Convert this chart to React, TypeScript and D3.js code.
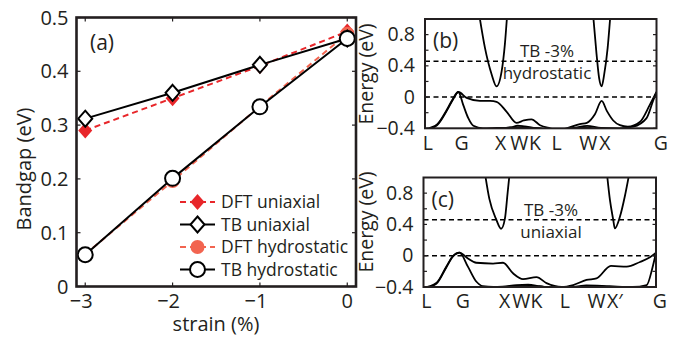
import React from 'react';
import * as d3 from 'd3';

// ---- panel (a): band gap vs strain ----
const strain = [-3, -2, -1, 0];
const dftUniaxial = [0.29, 0.35, 0.41, 0.474];
const tbUniaxial = [0.312, 0.36, 0.412, 0.461];
const dftHydro = [0.06, 0.196, 0.335, 0.47];
const tbHydro = [0.059, 0.201, 0.334, 0.461];

const gapTicks = [0, 0.1, 0.2, 0.3, 0.4, 0.5];
const strainTicks = [-3, -2, -1, 0];
const legendLabels = ['DFT uniaxial', 'TB uniaxial', 'DFT hydrostatic', 'TB hydrostatic'];

// ---- panels (b), (c): TB band structures at -3% strain ----
// k = fractional distance along the L-G-X-W-K-L-W-X-G path, E in eV
const energyTicks = [-0.4, -0.2, 0, 0.2, 0.4, 0.6, 0.8];
const energyTickLabels = [0.8, 0.4, 0, -0.4];
const refLevels = [0, 0.46];

const kLabelsB = ['L', 'G', 'X', 'W', 'K', 'L', 'W', 'X', 'G'];
const kLabelPosB = [0.012, 0.158, 0.327, 0.407, 0.475, 0.568, 0.705, 0.777, 1.019];
const kLabelsC = ['L', 'G', 'X', 'W', 'K', 'L', 'W', 'X\u2032', 'G'];
const kLabelPosC = [0.012, 0.169, 0.349, 0.421, 0.486, 0.608, 0.744, 0.823, 1.017];

const hydroVb1: [number, number][] = [
  [0, -0.41], [0.052, -0.35], [0.095, -0.16], [0.121, -0.02], [0.144, 0.065], [0.18, -0.01],
  [0.237, -0.048], [0.281, -0.05], [0.309, -0.06], [0.352, -0.185], [0.395, -0.33], [0.427, -0.30],
  [0.46, -0.285], [0.497, -0.36], [0.54, -0.40], [0.568, -0.42], [0.612, -0.40], [0.669, -0.345],
  [0.699, -0.33], [0.734, -0.22], [0.763, -0.05], [0.786, -0.18], [0.813, -0.30], [0.842, -0.36],
  [0.876, -0.38], [0.928, -0.32], [0.971, -0.10], [1.0, 0.065],
];
const hydroVb2: [number, number][] = [
  [0, -0.42], [0.052, -0.36], [0.095, -0.17], [0.121, -0.03], [0.144, 0.065], [0.165, -0.10],
  [0.187, -0.27], [0.209, -0.367], [0.25, -0.40], [0.31, -0.395], [0.37, -0.39], [0.40, -0.365],
  [0.43, -0.375], [0.47, -0.395], [0.568, -0.42], [0.65, -0.39], [0.70, -0.37], [0.76, -0.395],
  [0.84, -0.40], [0.899, -0.38], [0.957, -0.27], [0.985, -0.05], [1.0, 0.065],
];
const hydroVb3: [number, number][] = [
  [0, -0.43], [0.144, -0.55], [0.30, -0.42], [0.39, -0.385], [0.43, -0.39], [0.50, -0.40],
  [0.568, -0.43], [0.69, -0.39], [0.76, -0.41], [0.88, -0.42], [1.0, -0.55],
];
const hydroCb1: [number, number][] = [
  [0.234, 1.06], [0.259, 0.63], [0.288, 0.29], [0.309, 0.137], [0.331, 0.33], [0.345, 0.675], [0.355, 1.06],
];
const hydroCb2: [number, number][] = [
  [0.726, 1.06], [0.741, 0.55], [0.752, 0.245], [0.763, 0.137], [0.774, 0.29], [0.789, 0.63], [0.801, 1.06],
];

const uniVb1: [number, number][] = [
  [0, -0.41], [0.055, -0.35], [0.098, -0.14], [0.125, -0.01], [0.155, 0.04], [0.191, -0.035],
  [0.227, -0.09], [0.299, -0.10], [0.342, -0.09], [0.385, -0.225], [0.428, -0.30], [0.486, -0.275],
  [0.529, -0.35], [0.594, -0.40], [0.644, -0.375], [0.701, -0.31], [0.744, -0.29], [0.806, -0.13],
  [0.874, -0.14], [0.931, -0.08], [0.974, -0.02], [1.0, 0.04],
];
const uniVb2: [number, number][] = [
  [0, -0.42], [0.055, -0.36], [0.098, -0.15], [0.125, -0.015], [0.155, 0.04], [0.191, -0.14],
  [0.227, -0.33], [0.255, -0.39], [0.30, -0.40], [0.34, -0.395], [0.40, -0.375], [0.45, -0.37],
  [0.50, -0.39], [0.594, -0.42], [0.70, -0.38], [0.80, -0.39], [0.90, -0.40], [0.96, -0.375],
  [0.985, -0.15], [1.0, 0.04],
];
const uniVb3: [number, number][] = [
  [0, -0.43], [0.155, -0.55], [0.30, -0.42], [0.40, -0.39], [0.46, -0.385], [0.52, -0.40],
  [0.594, -0.43], [0.75, -0.39], [0.82, -0.405], [0.9, -0.42], [1.0, -0.55],
];
const uniCb1: [number, number][] = [
  [0.262, 1.10], [0.283, 0.73], [0.312, 0.47], [0.334, 0.345], [0.35, 0.47], [0.362, 0.81], [0.372, 1.10],
];
const uniCb2: [number, number][] = [
  [0.788, 1.08], [0.802, 0.71], [0.816, 0.46], [0.823, 0.35], [0.845, 0.50], [0.866, 0.76], [0.885, 1.05],
];

const FONT = "'Open Sans', 'Liberation Sans', sans-serif";
const RED = '#e8262a';
const SALMON = '#f26450';

function diamondPath(cx: number, cy: number, w = 7, h = 8) {
  return `M${cx},${cy - h}L${cx + w},${cy}L${cx},${cy + h}L${cx - w},${cy}Z`;
}

function GapPanel() {
  const left = 76.5, right = 356, top = 17.5, bottom = 286.5;
  const x = d3.scaleLinear().domain([-3.1, 0.1]).range([left, right]);
  const y = d3.scaleLinear().domain([0, 0.5]).range([bottom, top]);
  const line = (vals: number[]) =>
    d3.line<number>().x((_, i) => x(strain[i])).y((d) => y(d))(vals) ?? '';

  const legendX0 = 180, legendX1 = 215, legendY0 = 202, legendStep = 22.5;

  return (
    <g fontFamily={FONT}>
      {/* series: DFT under TB */}
      <path d={line(dftUniaxial)} fill="none" stroke={RED} strokeWidth={2} strokeDasharray="6,4" />
      <path d={line(dftHydro)} fill="none" stroke={SALMON} strokeWidth={2} strokeDasharray="6,4" />
      {dftUniaxial.map((v, i) => (
        <path key={'du' + i} d={diamondPath(x(strain[i]), y(v))} fill={RED} />
      ))}
      {dftHydro.map((v, i) => (
        <circle key={'dh' + i} cx={x(strain[i])} cy={y(v)} r={7} fill={SALMON} />
      ))}
      <path d={line(tbUniaxial)} fill="none" stroke="#000" strokeWidth={2} />
      <path d={line(tbHydro)} fill="none" stroke="#000" strokeWidth={2} />
      {tbUniaxial.map((v, i) => (
        <path key={'tu' + i} d={diamondPath(x(strain[i]), y(v))} fill="#fff" stroke="#000" strokeWidth={2} />
      ))}
      {tbHydro.map((v, i) => (
        <circle key={'th' + i} cx={x(strain[i])} cy={y(v)} r={7.5} fill="#fff" stroke="#000" strokeWidth={2} />
      ))}

      {/* box + ticks */}
      <rect x={left} y={top} width={right - left} height={bottom - top} fill="none" stroke="#231f20" strokeWidth={2.6} />
      {gapTicks.map((t) => (
        <g key={'gy' + t}>
          <line x1={left} x2={left + 4} y1={y(t)} y2={y(t)} stroke="#231f20" strokeWidth={1.2} />
          <line x1={right} x2={right - 4} y1={y(t)} y2={y(t)} stroke="#231f20" strokeWidth={1.2} />
          <text x={left - 8} y={y(t) + 7} textAnchor="end" fontSize={20} fill="#231f20">{t}</text>
        </g>
      ))}
      {strainTicks.map((t) => (
        <g key={'gx' + t}>
          <line x1={x(t)} x2={x(t)} y1={bottom} y2={bottom - 4} stroke="#231f20" strokeWidth={1.2} />
          <line x1={x(t)} x2={x(t)} y1={top} y2={top + 4} stroke="#231f20" strokeWidth={1.2} />
          <text x={x(t) - (t < 0 ? 4 : 0)} y={308} textAnchor="middle" fontSize={20} fill="#231f20">
            {t < 0 ? '\u2212' + Math.abs(t) : t}
          </text>
        </g>
      ))}
      <text x={90} y={50} fontSize={21} fill="#231f20">(a)</text>
      <text x={216} y={331} textAnchor="middle" fontSize={20} fill="#231f20">strain (%)</text>
      <text transform="translate(31,169) rotate(-90)" textAnchor="middle" fontSize={20} fill="#231f20">Bandgap (eV)</text>

      {/* legend */}
      {legendLabels.map((lab, i) => {
        const ly = legendY0 + i * legendStep;
        const mx = (legendX0 + legendX1) / 2;
        const dft = i % 2 === 0;
        const col = i === 0 ? RED : SALMON;
        return (
          <g key={lab}>
            <line x1={legendX0} x2={legendX1} y1={ly} y2={ly}
              stroke={dft ? col : '#000'} strokeWidth={2} strokeDasharray={dft ? '6,4' : undefined} />
            {i === 0 && <path d={diamondPath(mx, ly)} fill={RED} />}
            {i === 1 && <path d={diamondPath(mx, ly)} fill="#fff" stroke="#000" strokeWidth={2} />}
            {i === 2 && <circle cx={mx} cy={ly} r={7} fill={SALMON} />}
            {i === 3 && <circle cx={mx} cy={ly} r={7.5} fill="#fff" stroke="#000" strokeWidth={2} />}
            <text x={221} y={ly + 6} fontSize={17.5} fill="#231f20">{lab}</text>
          </g>
        );
      })}
    </g>
  );
}

type BandProps = {
  id: string;
  left: number; right: number; top: number; bottom: number;
  label: string; note: string; noteX: number; noteY: number;
  kLabels: string[]; kLabelPos: number[]; kLabelY: number;
  bands: [number, number][][];
  axisLabelY: number;
};

function BandPanel(p: BandProps) {
  const x = d3.scaleLinear().domain([0, 1]).range([p.left, p.right]);
  const y = d3.scaleLinear().domain([-0.4, 1.0]).range([p.bottom, p.top]);
  const line = d3.line<[number, number]>().x((d) => x(d[0])).y((d) => y(d[1])).curve(d3.curveMonotoneX);
  return (
    <g fontFamily={FONT}>
      <defs>
        <clipPath id={p.id}>
          <rect x={p.left} y={p.top} width={p.right - p.left} height={p.bottom - p.top} />
        </clipPath>
      </defs>
      {refLevels.map((e) => (
        <line key={e} x1={p.left} x2={p.right} y1={y(e)} y2={y(e)} stroke="#000" strokeWidth={1.5} strokeDasharray="5,3.5" />
      ))}
      <g clipPath={`url(#${p.id})`}>
        {p.bands.map((b, i) => (
          <path key={i} d={line(b) ?? ''} fill="none" stroke="#000" strokeWidth={1.8} />
        ))}
      </g>
      <rect x={p.left} y={p.top} width={p.right - p.left} height={p.bottom - p.top} fill="none" stroke="#231f20" strokeWidth={2} />
      {energyTicks.map((t) => (
        <g key={t}>
          <line x1={p.left} x2={p.left + 3.5} y1={y(t)} y2={y(t)} stroke="#231f20" strokeWidth={1.2} />
          <line x1={p.right} x2={p.right - 3.5} y1={y(t)} y2={y(t)} stroke="#231f20" strokeWidth={1.2} />
        </g>
      ))}
      {energyTickLabels.map((t) => (
        <text key={t} x={p.left - 10} y={y(t) + 6.5} textAnchor="end" fontSize={19.5} fill="#231f20">
          {t < 0 ? '\u2212' + Math.abs(t) : t}
        </text>
      ))}
      {p.kLabels.map((lab, i) => (
        <text key={i} x={x(p.kLabelPos[i])} y={p.kLabelY} textAnchor="middle" fontSize={19.5} fill="#231f20">{lab}</text>
      ))}
      <text x={p.left + 8} y={p.top + 29} fontSize={21} fill="#231f20">{p.label}</text>
      <text x={p.noteX} y={p.noteY} textAnchor="middle" fontSize={17} fill="#231f20">TB -3%</text>
      <text x={p.noteX} y={p.noteY + 22} textAnchor="middle" fontSize={17} fill="#231f20">{p.note}</text>
      <text transform={`translate(372.5,${p.axisLabelY}) rotate(-90)`} textAnchor="middle" fontSize={19.5} fill="#231f20">Energy (eV)</text>
    </g>
  );
}

export default function App() {
  return (
    <svg width={683} height={340} style={{ position: 'absolute', left: 0, top: 0, background: '#fff' }}>
      <GapPanel />
      <BandPanel id="clipB" left={425} right={656.5} top={19} bottom={128.3}
        label="(b)" note="hydrostatic" noteX={547} noteY={57}
        kLabels={kLabelsB} kLabelPos={kLabelPosB} kLabelY={150}
        bands={[hydroVb3, hydroVb2, hydroVb1, hydroCb1, hydroCb2]} axisLabelY={74} />
      <BandPanel id="clipC" left={423.5} right={656} top={177.5} bottom={287}
        label="(c)" note="uniaxial" noteX={551} noteY={216}
        kLabels={kLabelsC} kLabelPos={kLabelPosC} kLabelY={308}
        bands={[uniVb3, uniVb2, uniVb1, uniCb1, uniCb2]} axisLabelY={222} />
    </svg>
  );
}
